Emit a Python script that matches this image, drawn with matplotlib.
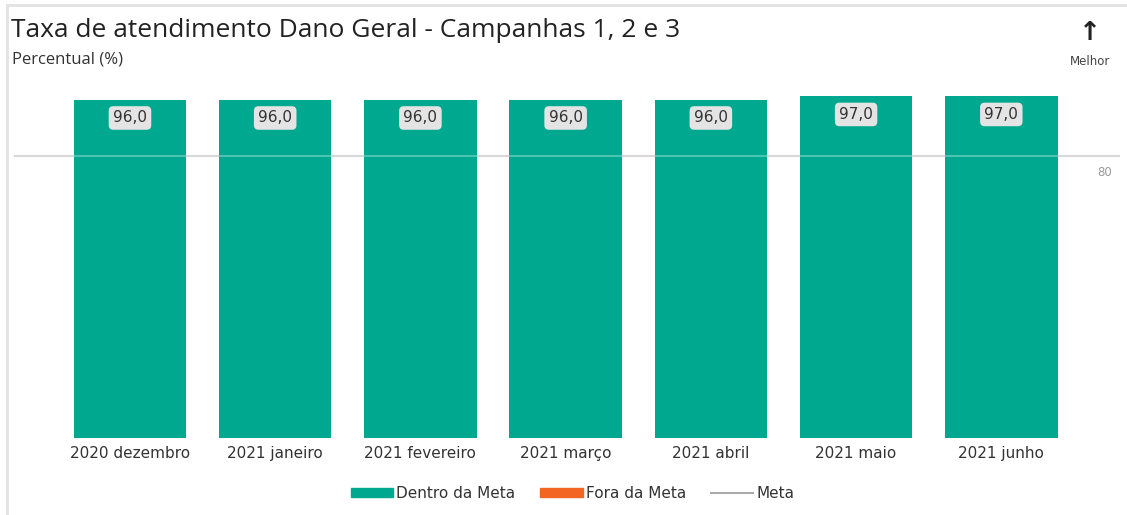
import matplotlib.pyplot as plt
from matplotlib.patches import Patch, Rectangle
from matplotlib.lines import Line2D
import numpy as np

# data
meses = ['2020 dezembro', '2021 janeiro', '2021 fevereiro', '2021 março',
         '2021 abril', '2021 maio', '2021 junho']
taxa = [96.0, 96.0, 96.0, 96.0, 96.0, 97.0, 97.0]
meta = 80

verde = '#00A88F'
laranja = '#F26522'
cinza = '#C8C8C8'

plt.rcParams['font.family'] = ['DejaVu Sans']

fig = plt.figure(figsize=(11.27, 5.15), dpi=100)
ax = fig.add_axes([0.0509, 0.1495, 0.902, 0.677])

xs = np.arange(len(meses))
ax.bar(xs, taxa, width=0.775, color=verde, zorder=2)

# meta line runs past the plot area on both sides, faint over the bars
ax.axhline(meta, xmin=-0.0417, xmax=1.0443, color=cinza, lw=1.5,
           zorder=1, clip_on=False)
ax.axhline(meta, xmin=-0.0417, xmax=1.0443, color='white', lw=1.5,
           alpha=0.3, zorder=3, clip_on=False)
ax.text(1.023, meta - 4.5, str(meta), transform=ax.get_yaxis_transform(),
        ha='left', va='center', fontsize=8.5, color='#999999')

for x, v in zip(xs, taxa):
    ax.annotate(f'{v:.1f}'.replace('.', ','), (x, v), xytext=(0, -13),
                textcoords='offset points', ha='center', va='center',
                fontsize=11, color='#333333', zorder=4,
                bbox=dict(boxstyle='round,pad=0.28,rounding_size=0.3',
                          fc='#E4E4E4', ec='none'))

ax.set_xlim(-0.5, len(meses) - 0.5)
ax.set_ylim(0, 99)
ax.set_xticks(xs)
ax.set_xticklabels(meses, fontsize=11, color='#333333')
ax.tick_params(axis='x', length=0, pad=6)
ax.set_yticks([])
for s in ax.spines.values():
    s.set_visible(False)

# titles
fig.text(0.010, 0.94, 'Taxa de atendimento Dano Geral - Campanhas 1, 2 e 3',
         fontsize=19, family='Open Sans', color='#222222', va='center')
fig.text(0.011, 0.885, 'Percentual (%)', fontsize=12, family='Open Sans',
         color='#333333', va='center')
fig.text(0.967, 0.935, '↑', fontsize=19, ha='center', va='center',
         color='#222222', fontweight='bold')
fig.text(0.967, 0.88, 'Melhor', fontsize=8.5, ha='center', va='center',
         color='#444444')

# light frame
fig.patches.append(Rectangle((0.0065, -0.05), 1.1, 1.04, transform=fig.transFigure,
                             fill=False, ec='#E2E2E2', lw=2))

handles = [Patch(color=verde, label='Dentro da Meta'),
           Patch(color=laranja, label='Fora da Meta'),
           Line2D([], [], color='#AAAAAA', lw=1.5, label='Meta')]
fig.legend(handles=handles, loc='center', bbox_to_anchor=(0.508, 0.042), ncol=3,
           frameon=False, fontsize=11, handlelength=2.8, handleheight=0.45,
           handletextpad=0.2, columnspacing=1.6, labelcolor='#333333')

fig.savefig('out.png', dpi=100)
